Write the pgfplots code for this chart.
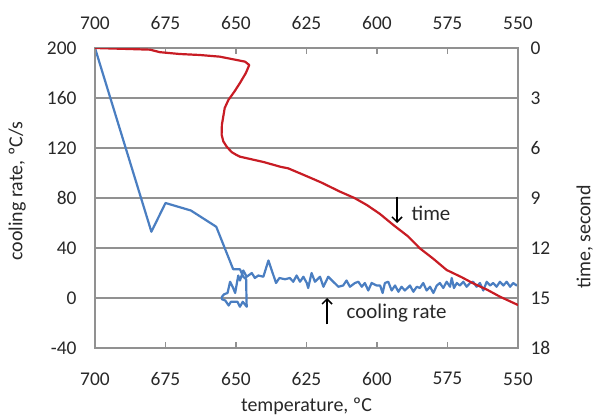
\documentclass[border=0pt]{standalone}
\usepackage{fontspec}
\setmainfont{Carlito}
\usepackage{pgfplots}
\pgfplotsset{compat=1.18}
\usetikzlibrary{arrows.meta}
\definecolor{crblue}{RGB}{74,126,193}
\definecolor{crred}{RGB}{200,28,36}
\definecolor{gridgray}{RGB}{145,145,145}
\definecolor{txt}{RGB}{40,40,40}

\pgfplotsset{
  common/.style={
    at={(0,0)}, anchor=south west,
    scale only axis, width=423bp, height=300bp,
    x dir=reverse, xmin=550, xmax=700, xtick={550,575,...,700},
    axis line style={gridgray, line width=1.2bp},
    tick style={gridgray, line width=1.2bp},
    major tick length=6bp,
    tick align=inside,
    ytick style={draw=none},
    /pgf/number format/assume math mode=true,
    tick label style={font=\fontsize{19.5}{19.5}\selectfont, text=txt},
    label style={font=\fontsize{20}{20}\selectfont, text=txt},
  }
}

\begin{document}
\begin{tikzpicture}
\useasboundingbox (-95bp,-69bp) rectangle (502bp,348bp);

\begin{axis}[common,
  ymin=-40, ymax=200, ytick={-40,0,...,200},
  ymajorgrids, grid style={gridgray, line width=1.2bp},
  xtick pos=bottom, ytick pos=left,
  xticklabel style={yshift=-21bp},
  yticklabel style={xshift=-15bp},
  xlabel={temperature, ºC},
  xlabel style={at={(axis description cs:0.5,-0.193)}, anchor=center},
  ylabel={cooling rate, ºC/s},
  ylabel style={at={(axis description cs:-0.184,0.523)}, anchor=center},
]
\addplot[crblue, line width=2.2bp, line join=round] coordinates {
  (700,200) (680,53) (675,76) (666,70) (657,57) (651,23) (648.6,23)
  (647.4,17) (646.4,15) (646.3,2) (646.2,-7) (647.6,-3) (648.6,-7)
  (649.5,-3) (651.8,-3) (652.6,-6) (653.8,-2) (655.0,-1) (655.0,1)
  (654.2,3) (653.0,4) (652.1,13) (651.0,8) (650.3,4) (649.2,18)
  (648.6,14) (647.4,22) (646.2,17) (644.4,20) (643.3,16) (642.1,18)
  (640.3,17) (638.5,30) (637.3,22) (635.8,12) (634.6,16) (632.6,15)
  (630.9,16) (629.7,13) (628.5,18) (627.3,13) (626.1,17) (624.9,12)
  (624.4,8) (623.2,20) (622.0,13) (620.2,17) (619.0,9) (617.3,17)
  (615.5,13) (613.7,9) (612.0,10) (610.8,14) (609.6,9) (607.8,12)
  (606.6,13) (605.4,9) (604.3,12) (603.1,6) (601.9,12) (600.1,10)
  (598.9,10) (598.0,4) (597.2,12) (596.0,13) (594.8,6) (593.6,10)
  (592.4,5) (591.3,9) (590.1,6) (588.3,10) (587.1,5) (585.9,9)
  (584.8,8) (583.6,12) (582.4,6) (581.2,9) (580.0,4) (578.8,10)
  (577.7,12) (576.5,8) (575.3,13) (574.1,9) (573.5,16) (572.7,8)
  (571.7,12) (570.6,10) (569.4,13) (568.2,9) (567.0,12) (565.9,13)
  (564.7,9) (563.5,12) (562.3,6) (561.1,13) (559.9,10) (558.8,12)
  (557.6,9) (556.4,13) (555.2,10) (554.0,13) (552.8,9) (551.7,12)
  (550.5,10) (550,11)
};
\draw[black, line width=1.5bp, -{Straight Barb[length=5bp,width=10bp]}]
  (axis cs:592.9,81) -- (axis cs:592.9,60);
\node[anchor=west, font=\fontsize{21}{21}\selectfont, text=txt, inner sep=0pt]
  at (axis cs:587.8,68) {time};
\draw[black, line width=1.5bp, -{Straight Barb[length=5bp,width=10bp]}]
  (axis cs:617.7,-21) -- (axis cs:617.7,0);
\node[anchor=west, font=\fontsize{21}{21}\selectfont, text=txt, inner sep=0pt]
  at (axis cs:610.8,-12) {cooling rate};
\end{axis}

\begin{axis}[common,
  ymin=0, ymax=18, y dir=reverse, ytick={0,3,...,18},
  xtick pos=top, ytick pos=right,
  xticklabel pos=top, yticklabel pos=right,
  xticklabel style={yshift=15bp},
  yticklabel style={xshift=9bp},
  ylabel={time, second},
  ylabel style={at={(axis description cs:1.158,0.37)}, anchor=center},
]
\addplot[crred, line width=2.2bp, line join=round] coordinates {
  (700,0.0) (690,0.05) (680.5,0.1) (677,0.25) (670,0.36) (662.8,0.42)
  (655.7,0.52) (646.8,0.82) (645.3,1.02) (646.5,1.5) (648.6,2.1)
  (650.5,2.6) (652.7,3.12) (654.0,3.6) (654.5,4.1) (655.0,4.6)
  (655.1,5.2) (654.5,5.6) (653.3,5.92) (651.5,6.25) (649.8,6.42)
  (648.6,6.52) (640,6.85) (634.4,7.12) (631.5,7.22) (627.3,7.52)
  (620,8.05) (613.1,8.62) (608,9.0) (603.6,9.42) (599,9.95)
  (594.2,10.62) (589,11.3) (584.8,12.02) (580,12.65) (575.3,13.32)
  (570,13.75) (565.9,14.12) (561,14.5) (556.4,14.92) (550,15.42)
};
\end{axis}
\end{tikzpicture}
\end{document}
